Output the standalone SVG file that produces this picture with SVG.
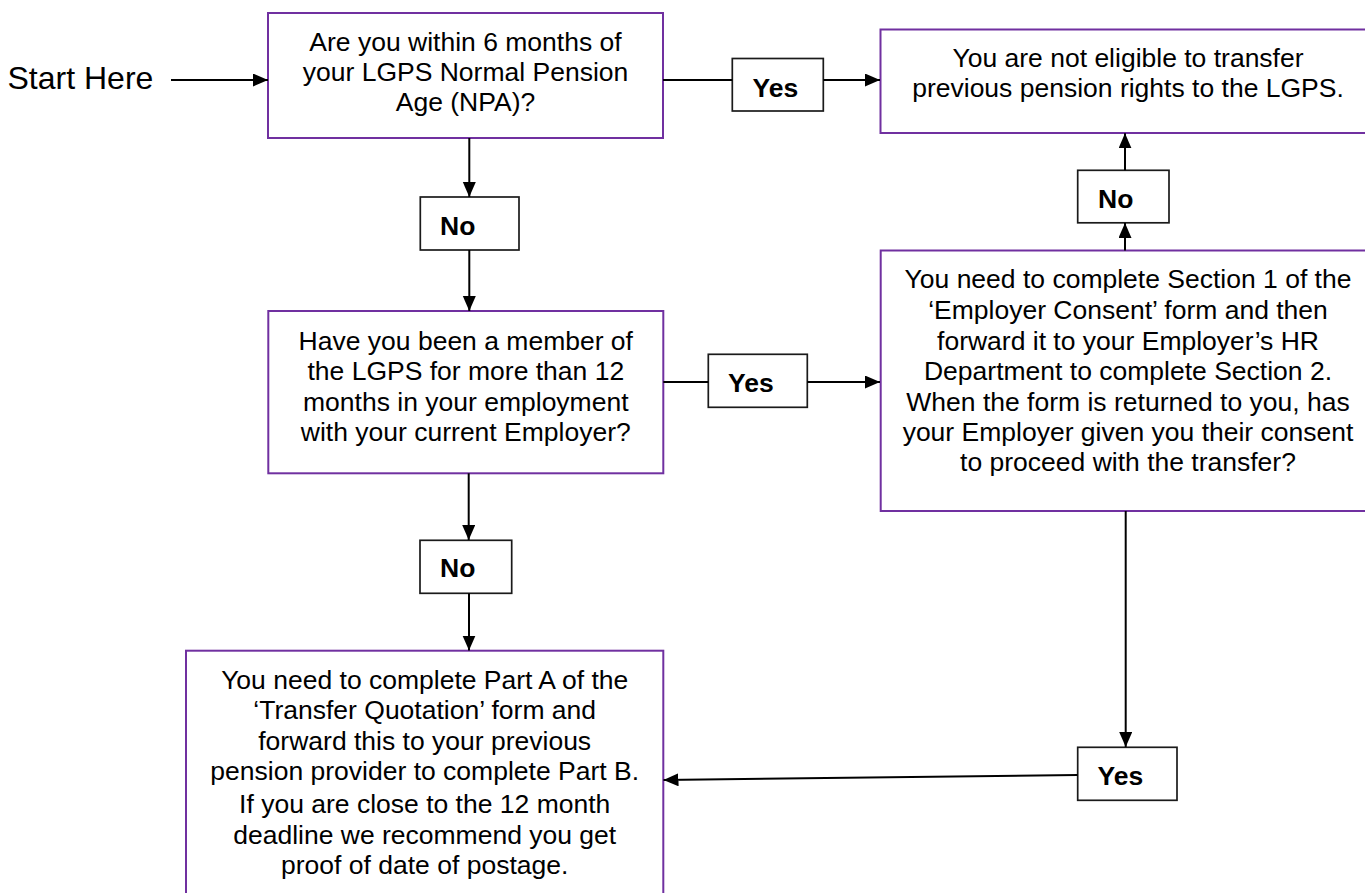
<svg xmlns="http://www.w3.org/2000/svg" width="1365" height="893" viewBox="0 0 1365 893">
<style>
.bg{fill:#ffffff}
.node{fill:#ffffff;stroke:#7030A0;stroke-width:2}
.lbl{fill:#ffffff;stroke:#1a1a1a;stroke-width:1.7}
.t{font-family:"Liberation Sans",Arial,sans-serif;font-size:26.5px;fill:#000000;text-anchor:middle}
.b{font-family:"Liberation Sans",Arial,sans-serif;font-size:26.5px;font-weight:bold;fill:#000000}
.start{font-family:"Liberation Sans",Arial,sans-serif;font-size:32px;fill:#000000}
.c{fill:none;stroke:#000000;stroke-width:2}
</style>
<defs>
<marker id="ah" markerUnits="userSpaceOnUse" markerWidth="16" markerHeight="14" refX="15" refY="6.5" orient="auto">
<path d="M0,0 L15,6.5 L0,13 Z" fill="#000000"/>
</marker>
</defs>
<rect class="bg" x="0" y="0" width="1365" height="893"/>

<g id="start">
<text class="start" x="7.5" y="88.5">Start Here</text>
</g>

<g id="q1">
<rect class="node" x="268" y="13" width="395" height="125"/>
<text class="t" x="465.5" y="50.7">Are you within 6 months of</text>
<text class="t" x="465.5" y="80.7">your LGPS Normal Pension</text>
<text class="t" x="465.5" y="110.7">Age (NPA)?</text>
</g>

<g id="noteligible">
<rect class="node" x="880.5" y="29.5" width="500" height="103.5"/>
<text class="t" x="1128" y="66.7">You are not eligible to transfer</text>
<text class="t" x="1128" y="97.3">previous pension rights to the LGPS.</text>
</g>

<g id="q2">
<rect class="node" x="268.3" y="311" width="395" height="162.3"/>
<text class="t" x="465.8" y="349.5">Have you been a member of</text>
<text class="t" x="465.8" y="380">the LGPS for more than 12</text>
<text class="t" x="465.8" y="410.5">months in your employment</text>
<text class="t" x="465.8" y="441">with your current Employer?</text>
</g>

<g id="consent">
<rect class="node" x="880.7" y="250.5" width="500" height="260.5"/>
<text class="t" x="1128" y="288.3">You need to complete Section 1 of the</text>
<text class="t" x="1128" y="319">‘Employer Consent’ form and then</text>
<text class="t" x="1128" y="349.5">forward it to your Employer’s HR</text>
<text class="t" x="1128" y="380">Department to complete Section 2.</text>
<text class="t" x="1128" y="410.7">When the form is returned to you, has</text>
<text class="t" x="1128" y="440.7">your Employer given you their consent</text>
<text class="t" x="1128" y="470.7">to proceed with the transfer?</text>
</g>

<g id="quotation">
<rect class="node" x="186" y="650.7" width="477.3" height="250"/>
<text class="t" x="424.7" y="689.3">You need to complete Part A of the</text>
<text class="t" x="424.7" y="719">‘Transfer Quotation’ form and</text>
<text class="t" x="424.7" y="749.5">forward this to your previous</text>
<text class="t" x="424.7" y="780">pension provider to complete Part B.</text>
<text class="t" x="424.7" y="813.3">If you are close to the 12 month</text>
<text class="t" x="424.7" y="844">deadline we recommend you get</text>
<text class="t" x="424.7" y="874">proof of date of postage.</text>
</g>

<g id="yes1">
<rect class="lbl" x="732.3" y="58.5" width="91" height="52.5"/>
<text class="b" x="752.5" y="96.7">Yes</text>
</g>
<g id="no1">
<rect class="lbl" x="420.3" y="197" width="98.7" height="53"/>
<text class="b" x="440" y="235">No</text>
</g>
<g id="yes2">
<rect class="lbl" x="708.3" y="354.3" width="99" height="53"/>
<text class="b" x="728" y="392.3">Yes</text>
</g>
<g id="no2">
<rect class="lbl" x="420" y="540.3" width="91.7" height="53"/>
<text class="b" x="440" y="577.3">No</text>
</g>
<g id="no3">
<rect class="lbl" x="1077.7" y="170.3" width="91.3" height="52.5"/>
<text class="b" x="1098" y="207.7">No</text>
</g>
<g id="yes3">
<rect class="lbl" x="1077.7" y="747.3" width="99.3" height="53"/>
<text class="b" x="1097.5" y="785">Yes</text>
</g>

<g id="connectors">
<line class="c" x1="171" y1="80" x2="268" y2="80" marker-end="url(#ah)"/>
<line class="c" x1="663" y1="80" x2="732.3" y2="80"/>
<line class="c" x1="823.3" y1="80" x2="880" y2="80" marker-end="url(#ah)"/>
<line class="c" x1="469.3" y1="138" x2="469.3" y2="197" marker-end="url(#ah)"/>
<line class="c" x1="469.3" y1="250" x2="469.3" y2="311" marker-end="url(#ah)"/>
<line class="c" x1="663.3" y1="382" x2="708.3" y2="382"/>
<line class="c" x1="807.3" y1="382" x2="880" y2="382" marker-end="url(#ah)"/>
<line class="c" x1="468.7" y1="473.3" x2="468.7" y2="540" marker-end="url(#ah)"/>
<line class="c" x1="469" y1="593.3" x2="469" y2="650.5" marker-end="url(#ah)"/>
<line class="c" x1="1125" y1="250.5" x2="1125" y2="223" marker-end="url(#ah)"/>
<line class="c" x1="1125" y1="170.3" x2="1125" y2="133.3" marker-end="url(#ah)"/>
<line class="c" x1="1125.7" y1="511" x2="1125.7" y2="747" marker-end="url(#ah)"/>
<line class="c" x1="1077.7" y1="775" x2="663.5" y2="780" marker-end="url(#ah)"/>
</g>
</svg>
